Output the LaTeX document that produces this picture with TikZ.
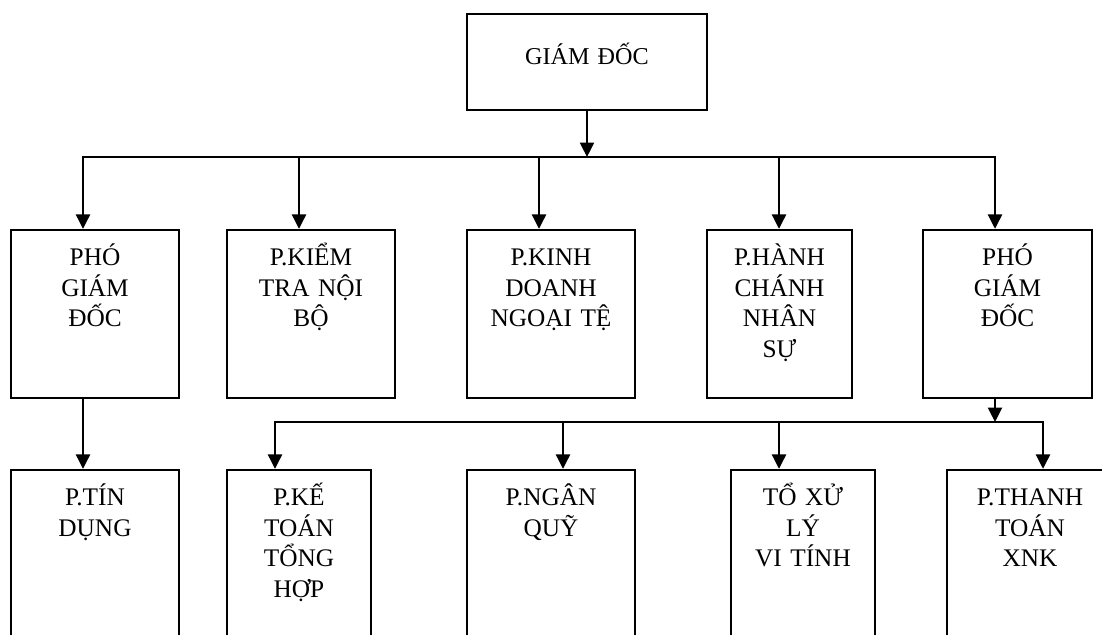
\documentclass[tikz,border=0pt]{standalone}
\usepackage{fontspec}
\setmainfont{Liberation Serif}
\usetikzlibrary{arrows.meta,calc,positioning}
\definecolor{ChartInk}{HTML}{000000}
\tikzset{
  every node/.style={text=ChartInk},
  unit/.style={draw=ChartInk, line width=1.6pt, inner sep=0pt},
  caption/.style={align=center, anchor=base, inner sep=0pt, text width=4cm, font=\fontsize{18}{21.7}\selectfont},
  feed/.style={-{Triangle[length=3.6mm,width=3.5mm]}, draw=ChartInk, line width=1.6pt},
  bus/.style={draw=ChartInk, line width=1.6pt, line cap=rect},
}

\begin{document}
\begin{tikzpicture}[x=0.025cm,y=-0.025cm]
  % pixel grid: x to the right, y downwards, 1102 x 635
  \useasboundingbox (0,0) rectangle (1102,635);
  \clip (0,0) rectangle (1102,635);
  % director
  \node[unit, minimum width=6cm, minimum height=2.4cm] (gd) at (587,62) {};
  \node[caption, font=\fontsize{17.2}{21}\selectfont] (gd-t) at (587,65) {GIÁM ĐỐC};
  % first level, boxes 168 px high from y = 230
  \foreach \n/\x/\w in {pgd1/95/4.2, kt/311/4.2, kd/551/4.2, hc/779.5/3.625, pgd2/1007.5/4.225}
    \node[unit, minimum width=\w cm, minimum height=4.2cm] (\n) at (\x,314) {};
  \node[caption] (pgd1-t) at ($(pgd1.north)+(0,37)$) {PHÓ\\GIÁM\\ĐỐC};
  \node[caption] (kt-t) at ($(kt.north)+(0,37)$) {P.KIỂM\\TRA NỘI\\BỘ};
  \node[caption] (kd-t) at ($(kd.north)+(0,37)$) {P.KINH\\DOANH\\NGOẠI TỆ};
  \node[caption] (hc-t) at ($(hc.north)+(0,37)$) {P.HÀNH\\CHÁNH\\NHÂN\\SỰ};
  \node[caption] (pgd2-t) at ($(pgd2.north)+(0,37)$) {PHÓ\\GIÁM\\ĐỐC};
  % second level, boxes run past the bottom edge
  \foreach \n/\x/\w in {td/95/4.2, ktth/299/3.6, nq/551/4.2, xl/803/3.6, tt/1030/4.15}
    \node[unit, minimum width=\w cm, minimum height=5cm] (\n) at (\x,570) {};
  \node[caption] (td-t) at ($(td.north)+(0,37)$) {P.TÍN\\DỤNG};
  \node[caption] (ktth-t) at ($(ktth.north)+(0,37)$) {P.KẾ\\TOÁN\\TỔNG\\HỢP};
  \node[caption] (nq-t) at ($(nq.north)+(0,37)$) {P.NGÂN\\QUỸ};
  \node[caption] (xl-t) at ($(xl.north)+(0,37)$) {TỔ XỬ\\LÝ\\VI TÍNH};
  \node[caption] (tt-t) at ($(tt.north)+(0,37)$) {P.THANH\\TOÁN\\XNK};
  % upper bus
  \coordinate (bus1) at (587,157);
  \draw[feed] (gd.south) -- (bus1);
  \draw[bus] (bus1 -| 83,0) -- (bus1 -| 995,0);
  \foreach \n/\x in {pgd1/83, kt/299, kd/539, hc/779, pgd2/995}
    \draw[feed] (bus1 -| \x,0) -- (\n.north -| \x,0);
  % lower links
  \draw[feed] (pgd1.south -| 83,0) -- (td.north -| 83,0);
  \coordinate (bus2) at (995,422);
  \draw[feed] (pgd2.south -| bus2) -- (bus2);
  \draw[bus] (bus2 -| 275,0) -- (bus2 -| 1043,0);
  \foreach \n/\x in {ktth/275, nq/563, xl/779, tt/1043}
    \draw[feed] (bus2 -| \x,0) -- (\n.north -| \x,0);
\end{tikzpicture}
\end{document}
